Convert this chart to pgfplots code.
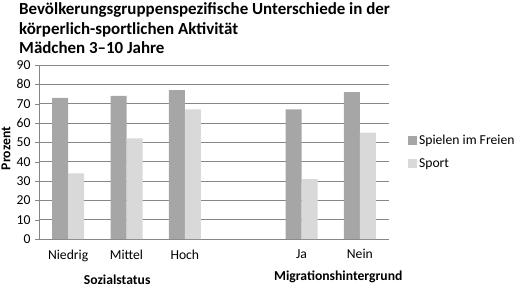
\documentclass[border=0pt]{standalone}
\usepackage{pgfplots}
\pgfplotsset{compat=1.18}
\usepackage{fontspec}
\setmainfont{Carlito}
\definecolor{darkbar}{HTML}{A6A6A6}
\definecolor{lightbar}{HTML}{D9D9D9}
\definecolor{gridc}{HTML}{868686}
\begin{document}
\begin{tikzpicture}[x=1bp,y=1bp]
\useasboundingbox (0,0) rectangle (520,287);
\node[anchor=north west, align=left, font=\fontsize{17}{20}\selectfont\bfseries, inner sep=0pt] at (19,285)
 {Bevölkerungsgruppenspezifische Unterschiede in der\\körperlich-sportlichen Aktivität\\Mädchen 3–10 Jahre};
\begin{axis}[
  at={(39bp,48bp)}, anchor=south west,
  scale only axis, width=350bp, height=174bp,
  xmin=-0.5, xmax=5.5, ymin=0, ymax=90,
  axis x line=bottom, axis y line=left,
  axis line style={-, draw=gridc},
  ytick={0,10,...,90},
  ymajorgrids, grid style={draw=gridc, line width=0.8pt},
  xtick={0,1,2,3,4,5},
  xticklabels={Niedrig,Mittel,Hoch,,Ja,Nein},
  major x tick style={draw=none},
  extra x ticks={-0.5,0.5,1.5,2.5,3.5,4.5,5.5},
  extra x tick labels={},
  extra x tick style={major tick length=5bp, tick align=outside, tick style={draw=gridc}, grid=none},
  tick align=outside,
  major tick length=4bp,
  y tick style={draw=gridc},
  /pgf/number format/assume math mode=true,
  tick label style={font=\fontsize{13.7}{15}\selectfont},
  xticklabel style={yshift=-3bp},
  yticklabel style={xshift=-1bp},
  legend style={at={(1.054,0.5)}, anchor=west, draw=none, fill=none,
    font=\fontsize{13.7}{15}\selectfont, row sep=9bp, inner sep=0pt},
  legend cell align=left,
  legend image code/.code={\fill[#1] (0bp,-4.5bp) rectangle (9bp,4.5bp);},
  clip=false,
]
\addplot[ybar, bar width=16bp, bar shift=-8bp, fill=darkbar, draw=none]
  coordinates {(0,73) (1,74) (2,77) (4,67) (5,76)};
\addlegendentry{Spielen im Freien}
\addplot[ybar, bar width=16bp, bar shift=8bp, fill=lightbar, draw=none]
  coordinates {(0,34) (1,52) (2,67) (4,31) (5,55)};
\addlegendentry{Sport}
\node[font=\fontsize{13.7}{15}\selectfont\bfseries, rotate=90] at ([xshift=-33bp]rel axis cs:0,0.52) {Prozent};
\node[font=\fontsize{13.7}{15}\selectfont\bfseries] at ([yshift=-41bp]axis cs:0.84,0) {Sozialstatus};
\node[font=\fontsize{13.7}{15}\selectfont\bfseries] at ([yshift=-38bp]axis cs:4.63,0) {Migrationshintergrund};
\end{axis}
\end{tikzpicture}
\end{document}
